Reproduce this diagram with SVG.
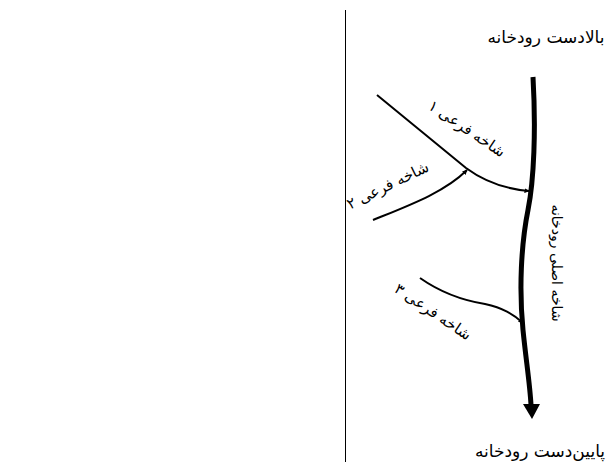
<svg xmlns="http://www.w3.org/2000/svg" width="611" height="462" viewBox="0 0 611 462">
<style>
.lbl{font-family:"DejaVu Sans","Noto Sans",sans-serif;fill:#000;text-anchor:middle;direction:rtl}
.big{font-size:17px}
.mid{font-size:15px}
.sml{font-size:14px}
.br{fill:none;stroke:#000;stroke-width:2}
</style>
<defs>
<marker id="sm" viewBox="0 0 10 10" refX="9" refY="5" markerWidth="5" markerHeight="5" orient="auto" markerUnits="userSpaceOnUse">
<path d="M0,0 L10,5 L0,10 z" fill="#000"/>
</marker>
</defs>
<rect width="611" height="462" fill="#fff"/>
<line x1="345.5" y1="10" x2="345.5" y2="462" stroke="#000" stroke-width="1"/>
<g id="connectors">
<path id="main" d="M533,77 C536,130 534,180 528,210 C521,245 519,290 523,330 C526,360 530,385 531,405" fill="none" stroke="#000" stroke-width="5"/>
<polygon points="523,404 540,404 532,419" fill="#000"/>
<path id="b1" class="br" d="M377,95 L466,168 C485,182 505,189 529,191" marker-end="url(#sm)"/>
<path id="b2" class="br" d="M373,220 C410,205 445,192 467,170" marker-end="url(#sm)"/>
<path id="b3" class="br" d="M420,278 C440,292 460,300 485,304 C503,308 513,314 523,323" marker-end="url(#sm)"/>
</g>
<g id="upstream"><text class="lbl big" x="546" y="43">بالادست رودخانه</text></g>
<g id="downstream"><text class="lbl big" x="540" y="457">پایین‌دست رودخانه</text></g>
<g id="mainlabel"><text class="lbl sml" transform="translate(552,263) rotate(90)">شاخه اصلی رودخانه</text></g>
<g id="branch1"><text class="lbl mid" transform="translate(464,133) rotate(34)">شاخه فرعی ۱</text></g>
<g id="branch2"><text class="lbl mid" transform="translate(390,190) rotate(-26)">شاخه فرعی ۲</text></g>
<g id="branch3"><text class="lbl mid" transform="translate(430,316) rotate(34)">شاخه فرعی ۳</text></g>
</svg>
